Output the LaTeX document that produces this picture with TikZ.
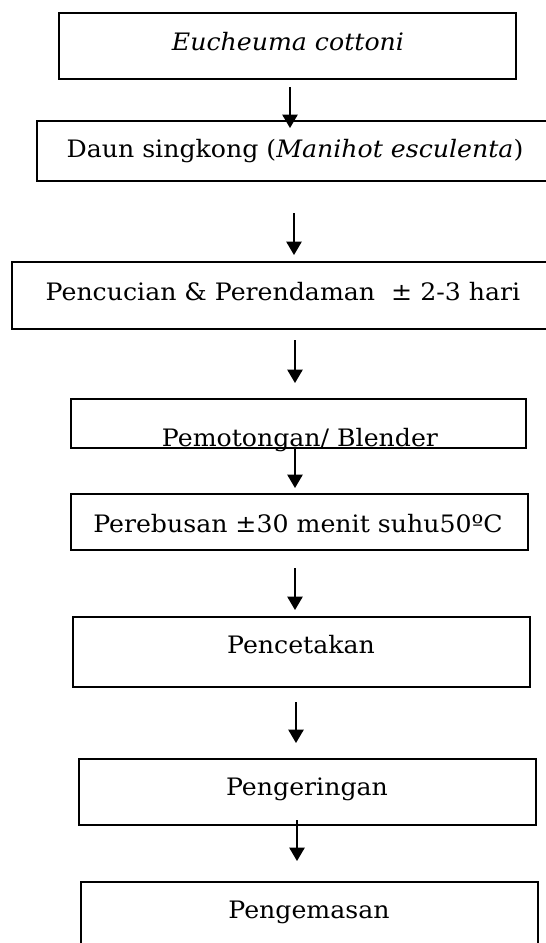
\documentclass[tikz,border=0pt]{standalone}
\usepackage{fontspec}
\setmainfont[FakeStretch=1.05]{DejaVu Serif}
\usetikzlibrary{arrows.meta}

\begin{document}
\begin{tikzpicture}[x=0.75pt,y=-0.75pt,
  box/.style={draw, line width=1.4pt, rectangle, inner sep=0pt, outer sep=0pt, anchor=north west},
  lbl/.style={anchor=base, inner sep=0pt, font=\fontsize{18pt}{21pt}\selectfont},
  flow/.style={line width=1pt, -{Triangle[width=11.5pt,length=10pt]}}]
% page area
\clip (0,0) rectangle (546,943);
\fill[white] (0,0) rectangle (546,943);

% process boxes
\node[box, minimum width=457*0.75pt, minimum height=66*0.75pt] (b1) at (59,13) {};
\node[box, minimum width=540*0.75pt, minimum height=60*0.75pt] (b2) at (37,121) {};
\node[box, minimum width=560*0.75pt, minimum height=67*0.75pt] (b3) at (12,262) {};
\node[box, minimum width=455*0.75pt, minimum height=49*0.75pt] (b4) at (71,399) {};
\node[box, minimum width=457*0.75pt, minimum height=56*0.75pt] (b5) at (71,494) {};
\node[box, minimum width=457*0.75pt, minimum height=70*0.75pt] (b6) at (73,617) {};
\node[box, minimum width=457*0.75pt, minimum height=66*0.75pt] (b7) at (79,759) {};
\node[box, minimum width=457*0.75pt, minimum height=90*0.75pt] (b8) at (81,882) {};

% labels
\node[lbl] (t1) at (288,50) {\textit{Eucheuma cottoni}};
\node[lbl] (t2) at (295,157) {Daun singkong (\textit{Manihot esculenta})};
\node[lbl] (t3) at (283,300) {Pencucian \& Perendaman~ ± 2-3 hari};
\node[lbl] (t4) at (300,446) {Pemotongan/ Blender};
\node[lbl] (t5) at (298,532) {Perebusan ±30 menit suhu50ºC};
\node[lbl] (t6) at (301,653) {Pencetakan};
\node[lbl] (t7) at (307,795) {Pengeringan};
\node[lbl] (t8) at (309,918) {Pengemasan};

% arrow end points
\coordinate (a1s) at (290,87);  \coordinate (a1e) at (290,128);
\coordinate (a2s) at (294,213); \coordinate (a2e) at (294,255);
\coordinate (a3s) at (295,340); \coordinate (a3e) at (295,383);
\coordinate (a4s) at (295,447); \coordinate (a4e) at (295,488);
\coordinate (a5s) at (295,568); \coordinate (a5e) at (295,610);
\coordinate (a6s) at (296,702); \coordinate (a6e) at (296,743);
\coordinate (a7s) at (297,820); \coordinate (a7e) at (297,861);

% flow arrows
\draw[flow] (a1s) -- (a1e);
\draw[flow] (a2s) -- (a2e);
\draw[flow] (a3s) -- (a3e);
\draw[flow] (a4s) -- (a4e);
\draw[flow] (a5s) -- (a5e);
\draw[flow] (a6s) -- (a6e);
\draw[flow] (a7s) -- (a7e);
\end{tikzpicture}
\end{document}
